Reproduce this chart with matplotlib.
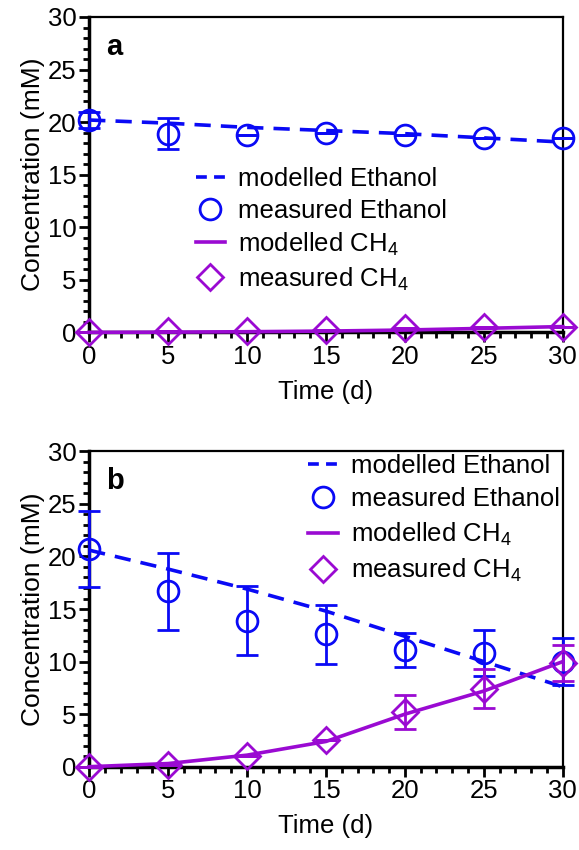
import numpy as np
import matplotlib.pyplot as plt
from matplotlib.lines import Line2D
from matplotlib.ticker import MultipleLocator

plt.rcParams['font.family'] = ['Liberation Sans', 'DejaVu Sans']
plt.rcParams['mathtext.fontset'] = 'custom'
plt.rcParams['mathtext.rm'] = 'Liberation Sans'
plt.rcParams['mathtext.it'] = 'Liberation Sans:italic'

# sampling days
days = [0, 5, 10, 15, 20, 25, 30]

# panel a
a_eth_model = [20.2, 19.9, 19.5, 19.2, 18.9, 18.5, 18.1]
a_eth_meas = [20.2, 18.9, 18.8, 19.0, 18.8, 18.5, 18.5]
a_eth_err = [0.8, 1.5, 0.0, 0.0, 0.0, 0.0, 0.0]
a_ch4_model = [0.0, 0.02, 0.06, 0.12, 0.22, 0.38, 0.55]
a_ch4_meas = [0.0, 0.1, 0.15, 0.2, 0.4, 0.5, 0.5]
a_ch4_err = [0.0, 0.0, 0.0, 0.0, 0.0, 0.0, 0.0]

# panel b
b_eth_model = [20.6, 18.8, 16.9, 14.8, 12.4, 10.0, 7.6]
b_eth_meas = [20.7, 16.7, 13.9, 12.6, 11.1, 10.8, 10.0]
b_eth_err = [3.6, 3.65, 3.3, 2.8, 1.65, 2.2, 2.2]
b_ch4_model = [0.0, 0.3, 1.1, 2.4, 5.0, 7.2, 10.0]
b_ch4_meas = [0.0, 0.2, 1.0, 2.5, 5.2, 7.4, 9.9]
b_ch4_err = [0.0, 0.0, 0.0, 0.0, 1.6, 1.85, 1.7]

labels = ['modelled Ethanol', 'measured Ethanol', 'modelled CH$_4$', 'measured CH$_4$']

blue = '#0a0af5'
purple = '#9a0ad2'
dash = (0, (4.5, 2.8))


def draw_panel(ax, letter, eth_model, eth_meas, eth_err, ch4_model, ch4_meas, ch4_err,
               legend_pos, spacing):
    ax.plot(days, eth_model, color=blue, lw=2.6, ls=dash, zorder=3, clip_on=False)
    ax.errorbar(days, eth_meas, yerr=eth_err, fmt='o', color=blue, mfc='none',
                ms=15, mew=2, elinewidth=2, capsize=8, capthick=2,
                zorder=4, clip_on=False)
    ax.plot(days, ch4_model, color=purple, lw=2.6, zorder=3, clip_on=False)
    ax.errorbar(days, ch4_meas, yerr=ch4_err, fmt='D', color=purple, mfc='none',
                ms=13, mew=2, elinewidth=2, capsize=8, capthick=2,
                zorder=4, clip_on=False)

    ax.set_xlim(0, 30)
    ax.set_ylim(0, 30)
    ax.xaxis.set_major_locator(MultipleLocator(5))
    ax.xaxis.set_minor_locator(MultipleLocator(1))
    ax.yaxis.set_major_locator(MultipleLocator(5))
    ax.yaxis.set_minor_locator(MultipleLocator(1))
    ax.tick_params(which='both', direction='out', width=2, labelsize=18.5,
                   top=False, right=False)
    ax.tick_params(which='major', length=7, pad=2)
    ax.tick_params(which='minor', length=4)
    for side in ['left', 'bottom']:
        ax.spines[side].set_linewidth(2.5)
    for side in ['top', 'right']:
        ax.spines[side].set_linewidth(1.6)

    ax.set_xlabel('Time (d)', fontsize=18.5, labelpad=8)
    ax.set_ylabel('Concentration (mM)', fontsize=19, labelpad=2)
    ax.text(0.035, 0.905, letter, transform=ax.transAxes, fontsize=21,
            fontweight='bold', va='center')

    handles = [
        Line2D([], [], color=blue, lw=2.6, ls=(0, (3.0, 2.0))),
        Line2D([], [], color=blue, ls='none', marker='o', ms=15, mfc='none', mew=2),
        Line2D([], [], color=purple, lw=2.6),
        Line2D([], [], color=purple, ls='none', marker='D', ms=13, mfc='none', mew=2),
    ]
    ax.legend(handles, labels, loc='upper left', bbox_to_anchor=legend_pos,
              frameon=False, fontsize=18.5, handlelength=1.15, handletextpad=0.5,
              labelspacing=spacing, borderaxespad=0)


fig = plt.figure(figsize=(5.79, 8.5), dpi=100)
ax1 = fig.add_axes([0.154, 0.609, 0.818, 0.371])
ax2 = fig.add_axes([0.154, 0.098, 0.818, 0.371])

draw_panel(ax1, 'a', a_eth_model, a_eth_meas, a_eth_err,
           a_ch4_model, a_ch4_meas, a_ch4_err, (0.203, 0.557), 0.3)
draw_panel(ax2, 'b', b_eth_model, b_eth_meas, b_eth_err,
           b_ch4_model, b_ch4_meas, b_ch4_err, (0.441, 1.024), 0.36)

fig.savefig('out.png', dpi=100)
